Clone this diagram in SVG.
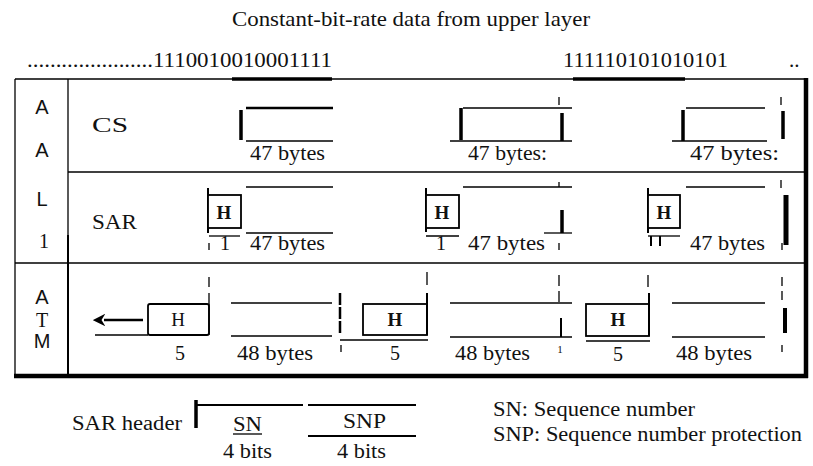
<svg xmlns="http://www.w3.org/2000/svg" width="813" height="466" viewBox="0 0 813 466">
<defs>
<style>
.ln{stroke:#000;stroke-width:1.3;fill:none}
.md{stroke:#000;stroke-width:2;fill:none}
.tk{stroke:#000;stroke-width:3.5;fill:none}
.ds{stroke:#000;stroke-width:1.3;fill:none;stroke-dasharray:9 5}
.box{stroke:#000;stroke-width:1.8;fill:#fff}
.t{font-family:"Liberation Serif","Times New Roman",serif;font-size:20px;fill:#111}
.big{font-size:21px}
.sm{font-family:"Liberation Serif",serif;font-size:11px;fill:#111}
.s{font-family:"Liberation Sans",Arial,sans-serif;font-size:20px;fill:#111}
.h{font-family:"Liberation Serif",serif;font-size:19px;font-weight:bold;fill:#111;text-anchor:middle}
.c{text-anchor:middle}
</style>
<marker id="ah" viewBox="0 0 10 10" refX="1" refY="5" markerWidth="5" markerHeight="5" orient="auto-start-reverse">
<path d="M0,0 L10,5 L0,10 L3,5 z" fill="#000"/>
</marker>
</defs>
<rect width="813" height="466" fill="#fff"/>

<g id="header">
<text class="t big" x="232" y="26" textLength="358" lengthAdjust="spacingAndGlyphs">Constant-bit-rate data from upper layer</text>
<text class="t big" x="27" y="67" textLength="305" lengthAdjust="spacingAndGlyphs">......................1110010010001111</text>
<text class="t big" x="563" y="67" textLength="165" lengthAdjust="spacingAndGlyphs">111110101010101</text>
<text class="t big" x="789" y="67">..</text>
</g>

<g id="frame">
<line class="ln" x1="15" y1="79" x2="807" y2="79"/>
<line class="tk" x1="232" y1="79" x2="332" y2="79"/>
<line class="tk" x1="573" y1="79" x2="685" y2="79"/>
<line class="ln" x1="15" y1="79" x2="15" y2="377"/>
<line class="ln" x1="68" y1="79" x2="68" y2="235"/>
<line class="md" x1="68" y1="235" x2="68" y2="377"/>
<line class="ln" x1="68" y1="172" x2="807" y2="172"/>
<line class="ln" x1="15" y1="263" x2="807" y2="263"/>
<line stroke="#000" stroke-width="4.5" x1="14" y1="376" x2="808" y2="376"/>
<line stroke="#000" stroke-width="4.5" x1="806" y1="78" x2="806" y2="378"/>
</g>

<g id="layer-labels">
<text class="s c" x="42" y="114">A</text>
<text class="s c" x="42" y="157">A</text>
<text class="s c" x="42" y="206">L</text>
<text class="t c" x="44" y="248">1</text>
<text class="s c" x="42" y="304">A</text>
<text class="t c" x="42" y="327">T</text>
<text class="s c" x="42" y="348">M</text>
<text class="t" x="92" y="132" textLength="36" lengthAdjust="spacingAndGlyphs">CS</text>
<text class="t" x="92" y="229" textLength="45" lengthAdjust="spacingAndGlyphs">SAR</text>
</g>

<g id="cs-1">
<line class="tk" x1="241" y1="110" x2="241" y2="140"/>
<line stroke="#000" stroke-width="2.5" x1="246" y1="108" x2="333" y2="108"/>
<line class="ln" x1="246" y1="141" x2="333" y2="141"/>
<text class="t" x="250" y="160" textLength="75" lengthAdjust="spacingAndGlyphs">47 bytes</text>
</g>
<g id="cs-2">
<line class="tk" x1="461" y1="108" x2="461" y2="140"/>
<line class="ln" x1="463" y1="108" x2="572" y2="108"/>
<line class="ln" x1="450" y1="141" x2="572" y2="141"/>
<line class="tk" x1="562" y1="113" x2="562" y2="141"/>
<line class="ln" x1="559" y1="97" x2="559" y2="105"/>
<text class="t" x="468" y="160" textLength="79" lengthAdjust="spacingAndGlyphs">47 bytes:</text>
</g>
<g id="cs-3">
<line class="tk" x1="683" y1="110" x2="683" y2="141"/>
<line class="ln" x1="686" y1="108" x2="765" y2="108"/>
<line class="ln" x1="672" y1="141" x2="767" y2="141"/>
<line class="tk" x1="783" y1="111" x2="783" y2="139"/>
<line class="ln" x1="781" y1="97" x2="781" y2="105"/>
<text class="t" x="690" y="160" textLength="89" lengthAdjust="spacingAndGlyphs">47 bytes:</text>
</g>

<g id="sar-1">
<line class="md" x1="208" y1="188" x2="208" y2="233"/>
<rect class="box" x="208" y="195" width="33" height="33"/>
<text class="h" x="224" y="219">H</text>
<line class="ln" x1="246" y1="187" x2="333" y2="187"/>
<line class="ln" x1="246" y1="233" x2="333" y2="233"/>
<line class="ln" x1="209" y1="236" x2="240" y2="236"/>
<line class="ln" x1="209" y1="243" x2="209" y2="250"/>
<text class="t c" x="225" y="250">1</text>
<text class="t" x="250" y="250" textLength="75" lengthAdjust="spacingAndGlyphs">47 bytes</text>
</g>
<g id="sar-2">
<line class="md" x1="426" y1="188" x2="426" y2="232"/>
<rect class="box" x="426" y="195" width="33" height="33"/>
<text class="h" x="442" y="219">H</text>
<line class="ln" x1="463" y1="187" x2="572" y2="187"/>
<line class="ln" x1="559" y1="182" x2="559" y2="187"/>
<line class="tk" x1="562" y1="210" x2="562" y2="233"/>
<line class="ln" x1="544" y1="233" x2="572" y2="233"/>
<line class="ln" x1="559" y1="243" x2="559" y2="250"/>
<line class="ln" x1="426" y1="236" x2="459" y2="236"/>
<text class="t c" x="441" y="250">1</text>
<text class="t" x="468" y="250" textLength="77" lengthAdjust="spacingAndGlyphs">47 bytes</text>
</g>
<g id="sar-3">
<line class="md" x1="648" y1="188" x2="648" y2="233"/>
<rect class="box" x="648" y="195" width="32" height="33"/>
<text class="h" x="664" y="219">H</text>
<line class="ln" x1="686" y1="187" x2="765" y2="187"/>
<line class="ln" x1="781" y1="180" x2="781" y2="188"/>
<line stroke="#000" stroke-width="5" x1="786" y1="195" x2="786" y2="245"/>
<line class="ln" x1="648" y1="236" x2="680" y2="236"/>
<line class="md" x1="651" y1="236" x2="651" y2="246"/>
<line class="md" x1="660" y1="236" x2="660" y2="246"/>
<line class="ln" x1="782" y1="243" x2="782" y2="250"/>
<text class="t" x="690" y="250" textLength="75" lengthAdjust="spacingAndGlyphs">47 bytes</text>
</g>

<g id="atm-1">
<rect class="box" x="148" y="304" width="61" height="31" rx="2"/>
<text class="h" x="178" y="326" style="font-weight:normal">H</text>
<line class="ln" x1="95" y1="335" x2="148" y2="335"/>
<line class="ln" x1="209" y1="277" x2="209" y2="287"/>
<line class="ln" x1="209" y1="293" x2="209" y2="335"/>
<text class="t c" x="180" y="360">5</text>
<line class="ln" x1="231" y1="303" x2="332" y2="303"/>
<line class="ln" x1="231" y1="336" x2="332" y2="336"/>
<text class="t" x="237" y="360" textLength="76" lengthAdjust="spacingAndGlyphs">48 bytes</text>
</g>
<g id="atm-2">
<line stroke="#000" stroke-width="2.5" stroke-dasharray="12 2" x1="340" y1="293" x2="340" y2="335"/>
<line class="ln" x1="340" y1="340" x2="428" y2="340"/>
<line class="ln" x1="341" y1="345" x2="341" y2="352"/>
<rect class="box" x="363" y="304" width="64" height="31"/>
<text class="h" x="395" y="326">H</text>
<line class="ln" x1="427" y1="272" x2="427" y2="285"/>
<line class="md" x1="427" y1="293" x2="427" y2="335"/>
<text class="t c" x="395" y="360">5</text>
<line class="ln" x1="450" y1="303" x2="572" y2="303"/>
<line class="ln" x1="450" y1="337" x2="572" y2="337"/>
<line class="ln" x1="559" y1="275" x2="559" y2="286"/>
<line class="ln" x1="559" y1="291" x2="559" y2="302"/>
<line class="md" x1="561" y1="318" x2="561" y2="337"/>
<text class="sm c" x="560" y="353">1</text>
<text class="t" x="455" y="360" textLength="75" lengthAdjust="spacingAndGlyphs">48 bytes</text>
</g>
<g id="atm-3">
<rect class="box" x="586" y="304" width="63" height="32"/>
<text class="h" x="618" y="326">H</text>
<line class="ln" x1="648" y1="275" x2="648" y2="287"/>
<line class="md" x1="649" y1="293" x2="649" y2="336"/>
<line class="ln" x1="586" y1="341" x2="650" y2="341"/>
<text class="t c" x="618" y="361">5</text>
<line class="ln" x1="672" y1="303" x2="765" y2="303"/>
<line class="ln" x1="672" y1="337" x2="765" y2="337"/>
<text class="t" x="676" y="360" textLength="76" lengthAdjust="spacingAndGlyphs">48 bytes</text>
<line class="ds" x1="782" y1="277" x2="782" y2="302"/>
<line stroke="#000" stroke-width="4" x1="785" y1="308" x2="785" y2="333"/>
<line class="ln" x1="782" y1="345" x2="782" y2="352"/>
</g>

<g id="connectors">
<line stroke="#000" stroke-width="2.5" x1="143" y1="320" x2="104" y2="320" marker-end="url(#ah)"/>
</g>

<g id="legend">
<text class="t" x="72" y="430" textLength="110" lengthAdjust="spacingAndGlyphs">SAR header</text>
<line class="tk" x1="196" y1="400" x2="196" y2="428"/>
<line class="md" x1="196" y1="405" x2="303" y2="405"/>
<text class="t" x="233" y="431" textLength="29" lengthAdjust="spacingAndGlyphs">SN</text>
<line class="ln" x1="233" y1="434" x2="262" y2="434"/>
<line class="md" x1="308" y1="405" x2="416" y2="405"/>
<line class="md" x1="308" y1="436" x2="416" y2="436"/>
<text class="t" x="343" y="428" textLength="43" lengthAdjust="spacingAndGlyphs">SNP</text>
<text class="t" x="223" y="458" textLength="49" lengthAdjust="spacingAndGlyphs">4 bits</text>
<text class="t" x="337" y="458" textLength="49" lengthAdjust="spacingAndGlyphs">4 bits</text>
<text class="t" x="493" y="416" textLength="202" lengthAdjust="spacingAndGlyphs">SN: Sequence number</text>
<text class="t" x="493" y="441" textLength="309" lengthAdjust="spacingAndGlyphs">SNP: Sequence number protection</text>
</g>
</svg>
